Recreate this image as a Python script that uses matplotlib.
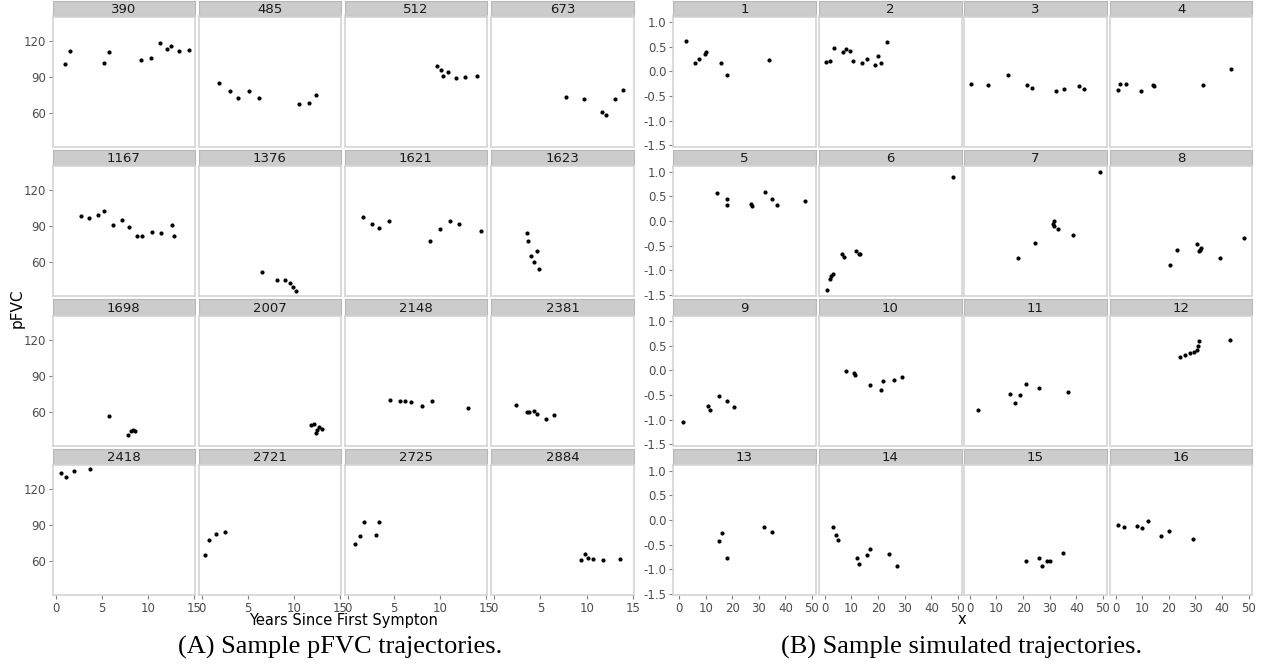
import numpy as np
import matplotlib
matplotlib.use("Agg")
import matplotlib.pyplot as plt

# (A) observed pFVC trajectories
a_ids = ["390", "485", "512", "673", "1167", "1376", "1621", "1623",
         "1698", "2007", "2148", "2381", "2418", "2721", "2725", "2884"]
a_years = [
    [1.03, 1.54, 5.22, 5.8, 9.26, 10.28, 11.28, 12.0, 12.44, 13.37, 14.39],
    [1.83, 3.02, 3.92, 5.11, 6.16, 10.52, 11.61, 12.33],
    [9.70, 10.09, 10.31, 10.85, 11.76, 12.73, 14.03],
    [7.71, 9.66, 11.57, 12.08, 13.01, 13.88],
    [2.77, 3.63, 4.54, 5.19, 6.16, 7.17, 7.90, 8.79, 9.37, 10.42, 11.39, 12.55, 12.83],
    [6.49, 8.08, 8.98, 9.59, 9.88, 10.24],
    [1.65, 2.62, 3.35, 4.46, 8.87, 9.92, 11.03, 12.04, 14.39],
    [3.57, 3.64, 4.57, 4.0, 4.29, 4.87],
    [5.73, 7.79, 8.11, 8.33, 8.54],
    [11.79, 12.15, 12.41, 12.47, 12.66, 13.06],
    [4.54, 5.62, 6.20, 6.78, 7.97, 9.12, 13.01],
    [2.34, 3.57, 3.78, 4.25, 4.65, 5.62, 6.41],
    [0.60, 1.11, 1.98, 3.71],
    [0.29, 0.75, 1.51, 2.48],
    [0.75, 1.26, 1.76, 3.06, 3.39],
    [9.38, 9.81, 10.09, 10.63, 11.68, 13.60],
]
a_pfvc = [
    [100.8, 111.1, 101.4, 110.6, 103.9, 105.8, 118.0, 113.0, 115.8, 111.1, 111.7],
    [84.2, 77.8, 71.9, 77.8, 71.9, 66.7, 68.3, 74.8],
    [98.9, 95.8, 90.6, 93.6, 88.6, 89.4, 90.6],
    [73.3, 71.4, 60.8, 58.1, 71.4, 78.9],
    [98.0, 96.9, 98.9, 102.6, 90.8, 95.2, 89.3, 82.0, 82.0, 85.3, 84.2, 90.8, 82.0],
    [51.3, 44.8, 44.8, 42.8, 38.8, 35.5],
    [97.5, 91.3, 88.5, 94.1, 77.7, 87.9, 94.4, 91.9, 86.2],
    [84.5, 77.2, 69.0, 65.1, 59.7, 54.4],
    [56.2, 40.3, 43.6, 44.4, 44.1],
    [48.9, 49.7, 42.4, 44.7, 47.2, 45.3],
    [69.2, 68.7, 68.4, 68.1, 65.0, 68.4, 62.8],
    [65.6, 59.5, 59.5, 60.3, 57.8, 54.1, 57.0],
    [133.5, 130.1, 135.0, 136.3],
    [65.3, 77.5, 82.6, 84.3],
    [74.4, 81.1, 92.7, 81.4, 92.7],
    [60.6, 66.2, 62.3, 61.7, 61.1, 61.7],
]

# (B) simulated trajectories
b_ids = [str(i) for i in range(1, 17)]
b_x = [
    [2.46, 5.85, 7.35, 9.83, 9.98, 15.71, 17.86, 33.66],
    [0.43, 1.94, 3.44, 6.71, 7.95, 9.45, 10.69, 13.97, 15.96, 18.97, 19.98, 21.0, 23.48],
    [0.32, 6.82, 14.45, 21.6, 23.36, 32.27, 35.5, 41.03, 42.9],
    [0.69, 1.45, 3.93, 9.45, 14.08, 14.23, 32.76, 43.4],
    [14.12, 18.1, 18.1, 26.9, 27.39, 32.27, 35.02, 36.78, 47.42],
    [0.69, 2.05, 2.42, 2.95, 6.33, 7.2, 11.82, 12.84, 13.21, 48.3],
    [18.1, 24.6, 31.6, 31.26, 31.75, 33.0, 38.78, 48.93],
    [20.24, 23.1, 30.62, 31.63, 32.0, 31.26, 39.42, 48.29],
    [1.5, 11.0, 11.5, 15.0, 18.0, 20.5],
    [8.0, 11.0, 11.5, 17.0, 21.0, 22.0, 26.0, 29.0],
    [3.0, 15.0, 17.0, 19.0, 21.0, 26.0, 37.0],
    [24.0, 26.0, 28.0, 29.5, 30.5, 31.0, 31.5, 43.0],
    [15.0, 16.0, 18.0, 32.0, 35.0],
    [3.0, 4.0, 5.0, 12.0, 13.0, 16.0, 17.0, 24.0, 27.0],
    [21.0, 26.0, 27.0, 29.0, 30.0, 35.0],
    [1.0, 3.0, 8.0, 10.0, 12.0, 17.0, 20.0, 29.0],
]
b_y = [
    [0.61, 0.175, 0.248, 0.364, 0.39, 0.161, -0.083, 0.236],
    [0.20, 0.22, 0.47, 0.40, 0.465, 0.41, 0.215, 0.18, 0.26, 0.126, 0.31, 0.175, 0.60],
    [-0.26, -0.28, -0.083, -0.27, -0.333, -0.40, -0.354, -0.30, -0.354],
    [-0.374, -0.246, -0.246, -0.40, -0.27, -0.30, -0.28, 0.039],
    [0.574, 0.446, 0.325, 0.339, 0.298, 0.588, 0.452, 0.318, 0.40],
    [-1.414, -1.176, -1.12, -1.07, -0.67, -0.73, -0.62, -0.67, -0.675, 0.90],
    [-0.744, -0.44, 0.006, -0.061, -0.095, -0.156, -0.278, 0.994],
    [-0.899, -0.582, -0.473, -0.588, -0.554, -0.608, -0.757, -0.339],
    [-1.05, -0.72, -0.8, -0.53, -0.62, -0.75],
    [-0.02, -0.05, -0.1, -0.3, -0.4, -0.22, -0.2, -0.13],
    [-0.8, -0.47, -0.67, -0.5, -0.28, -0.35, -0.43],
    [0.28, 0.32, 0.36, 0.38, 0.42, 0.5, 0.6, 0.62],
    [-0.43, -0.27, -0.77, -0.15, -0.25],
    [-0.15, -0.3, -0.4, -0.78, -0.9, -0.72, -0.6, -0.7, -0.93],
    [-0.83, -0.78, -0.93, -0.83, -0.83, -0.67],
    [-0.1, -0.15, -0.12, -0.17, -0.02, -0.33, -0.22, -0.38],
]

W, H = 1266, 665
fig = plt.figure(figsize=(W / 100, H / 100), dpi=100)

STRIP = "#cccccc"
FRAME = "#d4d4d4"
TICKC = "#4d4d4d"


def px_axes(x0, y0, x1, y1):
    return fig.add_axes([x0 / W, 1 - y1 / H, (x1 - x0) / W, (y1 - y0) / H])


def facet_grid(cols, ids, xs, ys, xlim, ylim, xticks, yticks):
    for i in range(16):
        r, c = divmod(i, 4)
        top = 16.5 + 149.5 * r
        x0, x1 = cols[c]
        # strip
        sax = px_axes(x0, top - 16, x1, top - 0.5)
        sax.set_facecolor(STRIP)
        sax.set_xticks([])
        sax.set_yticks([])
        for s in sax.spines.values():
            s.set_color("#b8b8b8")
            s.set_linewidth(0.8)
        sax.text(0.5, 0.45, ids[i], ha="center", va="center", fontsize=9.5,
                 color="#1a1a1a", transform=sax.transAxes)
        # panel
        ax = px_axes(x0, top, x1, top + 130)
        ax.scatter(xs[i], ys[i], s=9, color="black", linewidths=0, zorder=3)
        ax.set_xlim(*xlim)
        ax.set_ylim(*ylim)
        for s in ax.spines.values():
            s.set_color(FRAME)
            s.set_linewidth(1.2)
        ax.tick_params(colors="#7f7f7f", labelcolor=TICKC, labelsize=8.5,
                       length=3, width=0.8, pad=2)
        if c == 0:
            ax.set_yticks(yticks[0])
            ax.set_yticklabels(yticks[1])
        else:
            ax.set_yticks([])
        if r == 3:
            ax.set_xticks(xticks)
            ax.set_xticklabels([str(t) for t in xticks])
        else:
            ax.set_xticks([])


a_cols = [(52.7, 195), (199, 341), (345, 487), (491, 634)]
b_cols = [(673.3, 815.7), (819, 961.7), (964, 1106.7), (1110, 1252.3)]

facet_grid(a_cols, a_ids, a_years, a_pfvc, (-0.33, 15.07), (31.7, 140),
           [0, 5, 10, 15], ([60, 90, 120], ["60", "90", "120"]))
b_yt = [-1.5, -1.0, -0.5, 0.0, 0.5, 1.0]
facet_grid(b_cols, b_ids, b_x, b_y, (-2.2, 51.4), (-1.526, 1.116),
           [0, 10, 20, 30, 40, 50], (b_yt, ["%.1f" % v for v in b_yt]))

fig.text(17 / W, 1 - 308 / H, "pFVC", rotation=90, ha="center", va="center",
         fontsize=11)
fig.text(343 / W, 1 - 620 / H, "Years Since First Sympton", ha="center",
         va="center", fontsize=10.5)
fig.text(962 / W, 1 - 620 / H, "x", ha="center", va="center", fontsize=10.5)
fig.text(340 / W, 1 - 647 / H, "(A) Sample pFVC trajectories.", ha="center",
         va="center", fontsize=19, family="Liberation Serif")
fig.text(962 / W, 1 - 647 / H, "(B) Sample simulated trajectories.",
         ha="center", va="center", fontsize=19, family="Liberation Serif")

fig.savefig("out.png", dpi=100)
